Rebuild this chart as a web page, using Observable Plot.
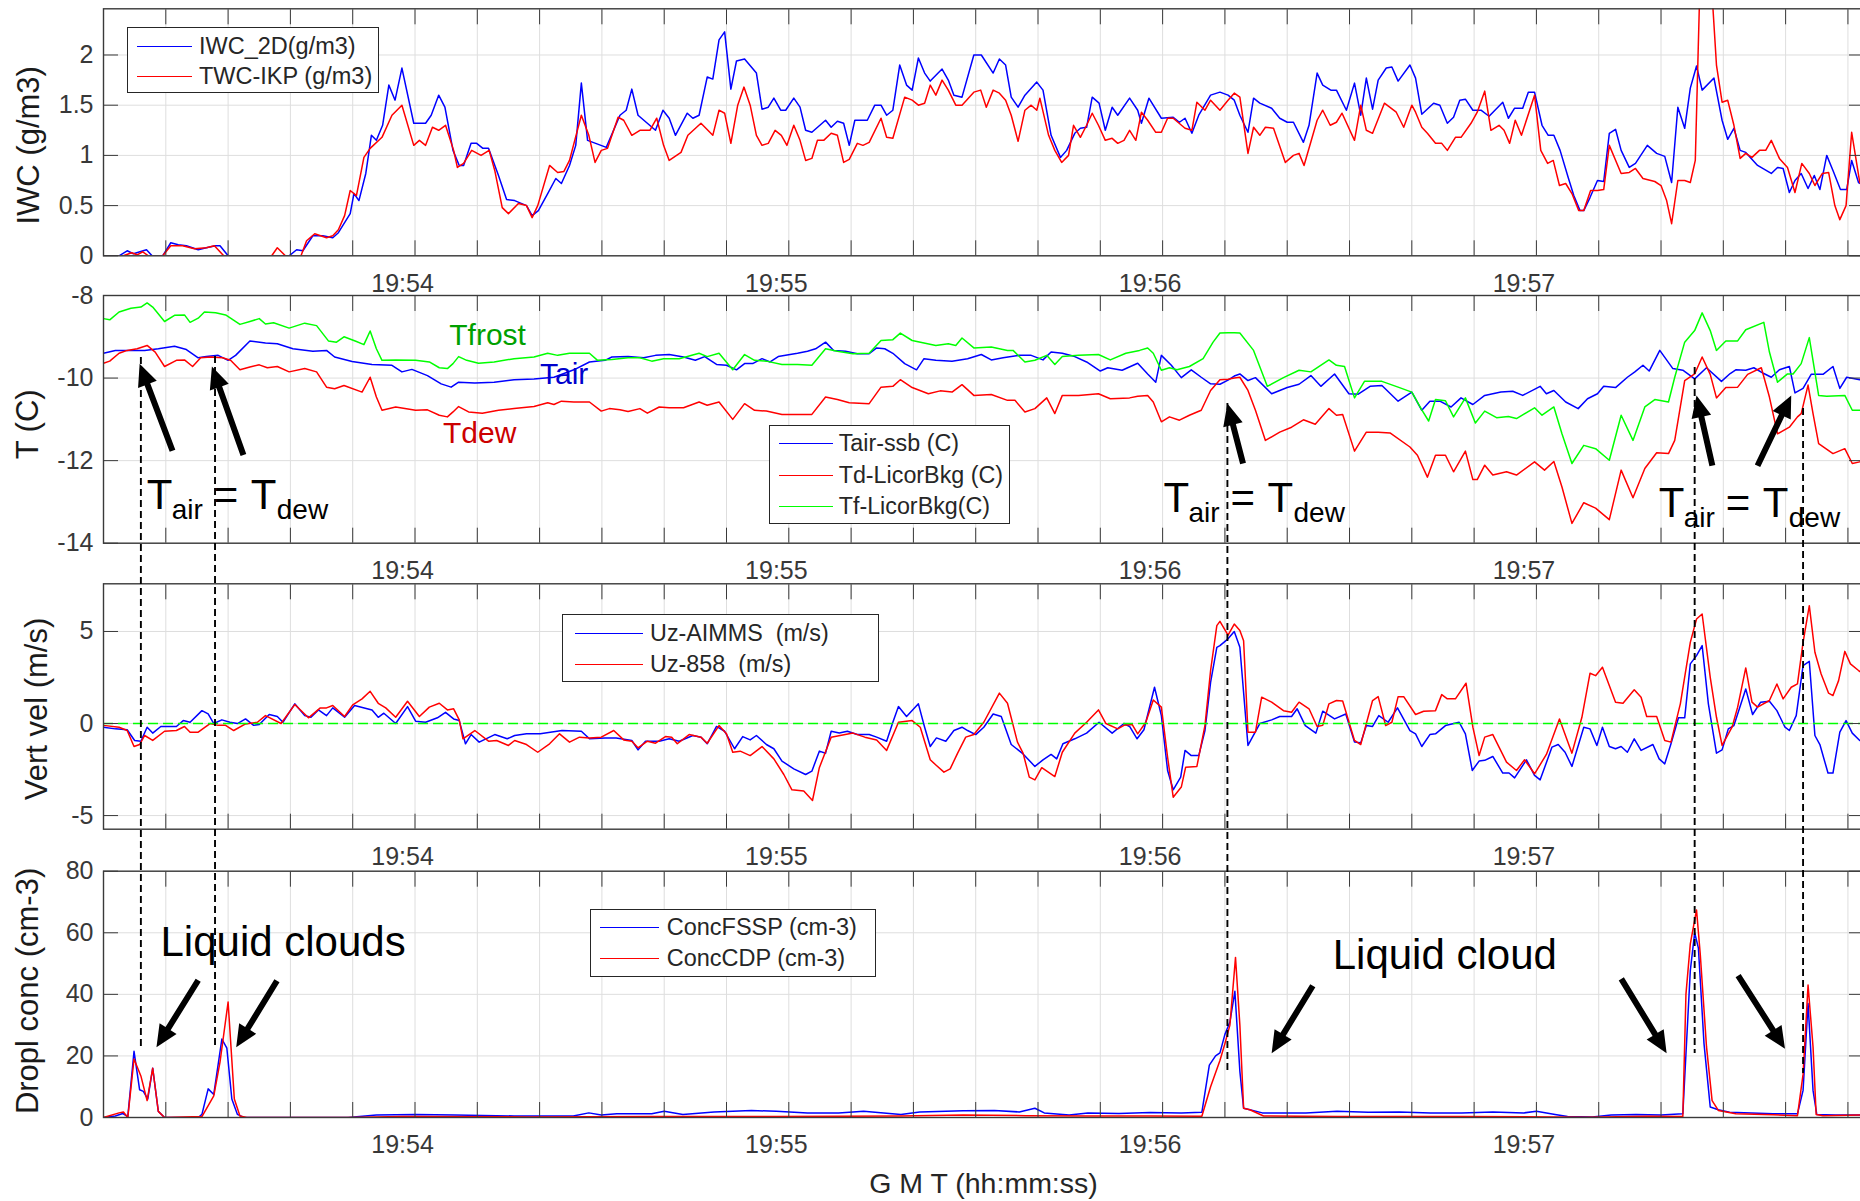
<!DOCTYPE html>
<html>
<head>
<meta charset="utf-8">
<script src="https://cdn.jsdelivr.net/npm/d3@7"></script>
<script src="https://cdn.jsdelivr.net/npm/@observablehq/plot@0.6"></script>
<style>
  html, body { margin: 0; padding: 0; background: #fff; }
  #fig { position: relative; width: 1860px; height: 1201px; overflow: hidden; background: #fff;
         font-family: "Liberation Sans", Arial, Helvetica, sans-serif; }
  #fig > svg { position: absolute; left: 0; top: 0; }
  .legend { position: absolute; background: #fff; border: 1.5px solid #262626; box-sizing: border-box; color: #262626; }
  .legend .row { position: absolute; display: flex; align-items: center; height: 28px; white-space: pre; }
</style>
</head>
<body>
<div id="fig"></div>
<script>
const W = 1860, H = 1201;
const FONT = '"Liberation Sans", Arial, Helvetica, sans-serif';
const BLUE = "#0000ff", RED = "#ff0000", GREEN = "#00ff00";
const AXIS = "#3a3a3a", GRID = "#dedede", TICK_TEXT = "#383838";

// Time axis: seconds after 19:53:00 GMT
const xDomain = [12, 294.5];
const xTicks = d3.range(12, 295, 10);
const minuteTicks = [60, 120, 180, 240];
const minuteLabels = ["19:54", "19:55", "19:56", "19:57"];

// ---- Panel 1: ice / total water content (g/m3), [seconds, value]
const iwc2D = [[12,0],[14.5,0],[15.8,0.05],[16.8,0.02],[18.9,0.06],[19.8,0],[21.5,0],[22.8,0.13],[24,0.11],[25.3,0.1],[27.2,0.06],[28.5,0.08],[30,0.1],[30.7,0.1],[32,0],[34,0],[38,0],[41.8,0],[43,0.06],[44,0.05],[45.6,0.2],[47.2,0.2],[48.8,0.18],[49.7,0.23],[51.6,0.42],[52.2,0.62],[53,0.55],[54.1,0.82],[55,1.2],[55.8,1.15],[56.8,1.3],[57.8,1.7],[58.8,1.55],[59.9,1.87],[61.8,1.32],[63.7,1.32],[64.6,1.4],[65.8,1.6],[66.8,1.48],[68.1,1.05],[69.1,0.9],[69.8,0.9],[71,1.12],[71.9,1.12],[72.9,1.07],[73.8,1.07],[75.4,0.8],[76.7,0.56],[78,0.55],[79.9,0.5],[80.8,0.4],[81.8,0.45],[83.3,0.62],[84.6,0.77],[85.5,0.72],[86.8,0.9],[87.8,1.1],[88.7,1.72],[89.7,1.15],[91,1.12],[92.7,1.08],[94.9,1.4],[95.9,1.45],[96.8,1.66],[97.8,1.4],[100.6,1.25],[101.8,1.45],[102.8,1.37],[103.8,1.2],[105.7,1.42],[106.6,1.37],[107.6,1.4],[108.9,1.78],[109.8,1.76],[110.8,2.15],[111.7,2.23],[112.7,1.66],[113.6,1.94],[114.9,1.96],[116.8,1.82],[117.7,1.46],[118.7,1.48],[119.6,1.57],[120.7,1.45],[121.5,1.45],[122.8,1.57],[123.8,1.48],[124.7,1.25],[125.7,1.23],[127.9,1.35],[128.8,1.28],[129.8,1.34],[130.8,1.32],[131.7,1.1],[132.6,1.35],[134.6,1.35],[135.8,1.5],[136.8,1.5],[137.7,1.4],[138.7,1.45],[139.8,1.9],[140.9,1.7],[141.8,1.65],[142.8,1.97],[143.8,1.82],[144.7,1.74],[146.6,1.86],[147.6,1.75],[148.5,1.6],[149.8,1.58],[151.7,2.0],[152.9,2.0],[154.8,1.82],[155.8,1.96],[156.8,1.9],[157.7,1.58],[158.8,1.48],[159.9,1.6],[161.8,1.73],[162.8,1.65],[164.1,1.2],[165.6,0.98],[166.6,1.05],[167.9,1.22],[168.8,1.27],[169.8,1.28],[170.7,1.58],[171.8,1.52],[172.8,1.25],[173.9,1.48],[174.8,1.4],[176.7,1.57],[178,1.45],[178.6,1.32],[179.8,1.57],[181.8,1.37],[183.7,1.38],[184.7,1.33],[185.6,1.37],[186.7,1.22],[187.8,1.4],[189.7,1.6],[191.2,1.63],[192.5,1.6],[193.5,1.55],[194.4,1.4],[195.7,1.23],[196.6,1.57],[197.6,1.52],[199.5,1.47],[200.8,1.37],[202,1.33],[203,1.33],[204.6,1.13],[205.5,1.3],[206.8,1.82],[207.7,1.7],[209,1.65],[209.9,1.65],[211.5,1.45],[212.8,1.72],[213.8,1.4],[214.7,1.77],[215.7,1.46],[216.6,1.75],[217.9,1.87],[218.8,1.88],[219.8,1.74],[221.7,1.9],[222.6,1.77],[223.6,1.41],[225.5,1.52],[226.5,1.5],[227.7,1.32],[228.7,1.38],[229.7,1.55],[230.6,1.56],[231.8,1.45],[233.1,1.45],[234.4,1.39],[236.6,1.53],[237.5,1.37],[238.5,1.47],[239.8,1.47],[240.7,1.63],[241.7,1.63],[242.9,1.3],[243.9,1.2],[244.8,1.2],[245.8,1.05],[247.1,0.78],[248,0.6],[249,0.45],[249.6,0.45],[250.6,0.58],[251.8,0.75],[252.8,0.74],[253.7,1.22],[254.7,1.26],[255.6,1.05],[256.9,0.88],[257.9,0.92],[259.8,1.1],[261.3,1.02],[262.6,0.99],[263.7,0.73],[264.7,1.48],[265.8,1.27],[266.7,1.67],[267.7,1.89],[268.6,1.65],[270.5,1.77],[271.8,1.35],[272.7,1.16],[273.7,1.27],[274.7,1.05],[275.6,1.03],[277.5,0.9],[279.7,0.82],[280.7,0.88],[281.6,0.87],[282.6,0.63],[283.5,0.75],[284.5,0.82],[285.6,0.67],[286.6,0.8],[287.5,0.66],[288.6,1.0],[289.6,0.85],[290.8,0.66],[291.8,0.66],[292.6,0.95],[293.7,0.73],[294.5,0.7]];

const twcIKP = [[12,0],[15.2,0],[16.5,0.03],[17.4,0.01],[18.3,0.04],[19.2,0],[21.5,0],[22.8,0.1],[24.7,0.1],[26.6,0.07],[28.5,0.08],[29.8,0.1],[31.3,0],[39,0],[39.9,0.08],[41.2,0],[43.7,0],[44.6,0.15],[45.9,0.22],[47.8,0.18],[48.8,0.2],[49.7,0.26],[50.7,0.4],[51.6,0.65],[52.6,0.6],[53.8,0.98],[54.8,1.07],[56.7,1.18],[58.3,1.4],[59.9,1.5],[61.8,1.1],[62.7,1.15],[63.7,1.1],[64.8,1.28],[65.8,1.25],[66.9,1.3],[68.2,1.05],[68.8,0.88],[69.8,0.92],[71.1,1.05],[72.6,1.0],[73.9,1.05],[74.8,0.85],[76,0.48],[77,0.42],[78.6,0.52],[79.9,0.5],[80.8,0.38],[81.7,0.5],[83.6,0.9],[84.9,0.83],[85.9,0.84],[86.8,0.95],[88.7,1.4],[89.9,1.2],[90.9,0.93],[91.9,1.05],[92.9,1.07],[94.6,1.38],[95.5,1.35],[96.8,1.2],[98.1,1.25],[99.7,1.25],[100.8,1.37],[101.9,1.1],[102.8,0.95],[104.7,1.03],[105.8,1.2],[107.9,1.32],[109.8,1.2],[110.8,1.45],[111.7,1.42],[112.7,1.12],[113.8,1.5],[114.8,1.68],[115.8,1.5],[116.8,1.2],[117.7,1.1],[118.7,1.12],[119.8,1.25],[120.8,1.2],[121.7,1.1],[122.8,1.3],[123.8,1.15],[124.7,0.95],[125.7,0.97],[126.6,1.15],[127.6,1.15],[128.8,1.22],[129.8,1.2],[130.8,0.93],[131.7,0.96],[133,1.12],[133.9,1.1],[134.9,1.13],[136.8,1.37],[137.7,1.18],[138.7,1.17],[140.6,1.58],[141.8,1.55],[142.8,1.5],[143.8,1.52],[144.7,1.7],[145.6,1.6],[146.6,1.75],[147.6,1.65],[148.8,1.5],[149.8,1.5],[151.7,1.63],[152.8,1.65],[153.7,1.48],[154.8,1.65],[155.8,1.62],[156.8,1.55],[157.7,1.4],[158.8,1.14],[159.9,1.45],[160.9,1.5],[161.8,1.45],[162.3,1.57],[163.7,1.2],[164.7,1.05],[165.8,0.93],[166.9,1.0],[167.7,1.3],[168.8,1.18],[169.8,1.3],[170.7,1.42],[171.7,1.3],[172.8,1.15],[173.9,1.17],[174.8,1.12],[175.8,1.15],[176.7,1.25],[177.7,1.15],[178.6,1.43],[179.6,1.35],[180.9,1.23],[181.8,1.23],[182.8,1.37],[183.7,1.37],[185.6,1.27],[186.7,1.25],[187.5,1.53],[188.8,1.45],[189.7,1.55],[191.2,1.45],[192.5,1.55],[193.5,1.62],[194.4,1.58],[195.7,1.02],[196.6,1.28],[197.6,1.2],[198.5,1.28],[199.8,1.27],[201.7,0.93],[203,1.0],[203.9,1.02],[204.7,0.9],[206.8,1.35],[207.7,1.45],[208.9,1.3],[209.9,1.33],[210.8,1.42],[212.8,1.15],[213.8,1.5],[214.7,1.25],[215.7,1.22],[217.6,1.52],[219.5,1.43],[220.7,1.28],[222,1.5],[222.6,1.43],[223.6,1.28],[224.5,1.22],[225.8,1.12],[226.8,1.12],[227.7,1.05],[229,1.18],[229.9,1.18],[231.5,1.32],[232.5,1.43],[233.7,1.64],[234.7,1.25],[236,1.3],[236.8,1.25],[237.7,1.12],[238.6,1.35],[239.6,1.2],[241.7,1.6],[242.7,1.05],[243.8,0.92],[244.7,0.95],[245.7,0.7],[246.7,0.72],[247.7,0.62],[248.8,0.45],[249.6,0.45],[250.7,0.65],[251.8,0.65],[252.8,0.66],[253.7,1.1],[255.6,0.82],[256.9,0.83],[257.9,0.87],[259.1,0.77],[261,0.74],[262,0.7],[262.9,0.55],[263.7,0.32],[264.7,0.75],[265.8,0.75],[266.7,0.73],[267.5,0.95],[268.2,2.6],[269,2.9],[270.2,2.6],[270.9,1.9],[271.8,1.53],[272.7,1.55],[273.7,1.3],[274.7,0.97],[275.6,1.02],[276.6,0.98],[277.8,1.05],[278.8,1.05],[279.7,1.15],[281,0.97],[282.3,0.88],[283.5,0.63],[284.6,0.92],[285.8,0.82],[286.7,0.7],[287.9,0.82],[288.9,0.83],[289.9,0.5],[290.7,0.36],[291.7,0.5],[292.6,1.23],[293.9,0.73],[294.5,0.7]];

// ---- Panel 2: temperatures (C)
const tairSsb = [[12,-9.4],[13.9,-9.33],[16.4,-9.33],[18.6,-9.33],[20.8,-9.29],[23.4,-9.23],[25.3,-9.31],[27.2,-9.51],[28.5,-9.48],[30.4,-9.45],[32,-9.57],[33.2,-9.45],[35.5,-9.1],[38,-9.15],[39.9,-9.17],[42.4,-9.29],[45.6,-9.35],[47.8,-9.33],[49.1,-9.49],[51.9,-9.6],[55.1,-9.67],[58.3,-9.69],[59.9,-9.85],[61.5,-9.79],[64,-9.94],[66.2,-10.14],[67.8,-10.22],[69,-10.1],[71.6,-10.12],[74.7,-10.1],[77.9,-10.04],[81.1,-10.02],[84.3,-9.98],[87.5,-9.8],[90,-9.61],[92.5,-9.57],[93.6,-9.49],[96.2,-9.48],[98.7,-9.51],[100.6,-9.45],[102.8,-9.43],[105.1,-9.49],[107,-9.57],[108.5,-9.48],[110.4,-9.67],[112,-9.69],[113.6,-9.8],[114.9,-9.65],[116.2,-9.65],[117.7,-9.53],[119,-9.61],[120.3,-9.48],[122.2,-9.43],[123.4,-9.4],[125,-9.35],[126.3,-9.29],[127.9,-9.13],[129.2,-9.33],[131.1,-9.35],[133,-9.41],[134.9,-9.41],[136.1,-9.27],[137.4,-9.29],[138.7,-9.4],[140.6,-9.65],[142.5,-9.8],[143.7,-9.53],[145.6,-9.57],[148.2,-9.59],[150.7,-9.53],[152.9,-9.43],[154.5,-9.56],[156.4,-9.51],[159,-9.45],[160.9,-9.45],[162.8,-9.56],[164.1,-9.37],[165.9,-9.4],[167.9,-9.48],[169.8,-9.61],[172,-9.83],[173.2,-9.75],[175.5,-9.81],[178,-9.64],[179.6,-9.9],[180.9,-10.1],[181.8,-9.45],[183.4,-9.69],[185,-9.99],[186.6,-9.8],[188.2,-9.98],[189.7,-10.14],[191.2,-10.15],[192.5,-10.05],[193.5,-9.95],[194.4,-9.9],[195.7,-10.06],[196.9,-9.99],[199.5,-10.38],[202,-10.23],[203.9,-10.15],[205.8,-9.94],[207.4,-10.2],[209.6,-9.9],[211.9,-10.38],[213.4,-10.39],[215.3,-10.2],[217.2,-10.18],[219.8,-10.56],[222,-10.34],[223.6,-10.78],[224.9,-10.56],[226.5,-10.56],[228.3,-10.7],[229.9,-10.48],[231.8,-10.64],[233.7,-10.42],[236.3,-10.34],[238.2,-10.32],[239.8,-10.42],[242.6,-10.2],[243.6,-10.38],[244.8,-10.3],[246.7,-10.58],[248.7,-10.74],[250.2,-10.5],[251.8,-10.38],[252.8,-10.2],[254.7,-10.23],[256.6,-9.98],[257.8,-9.85],[259.1,-9.69],[260.1,-9.83],[261.8,-9.33],[263.9,-9.77],[265.5,-9.81],[267.4,-10.02],[269.3,-9.75],[271.7,-10.08],[273.1,-9.89],[274,-9.8],[275.6,-9.81],[276.9,-9.75],[278.5,-9.89],[279.7,-9.98],[281,-9.8],[282.6,-9.72],[283.5,-10.36],[284.8,-10.25],[286.1,-9.91],[288,-9.91],[289.6,-9.72],[290.7,-10.25],[291.8,-9.98],[293.9,-10.04],[294.5,-10.04]];

const tdLicor = [[12,-9.64],[13,-9.59],[14.5,-9.4],[15.8,-9.33],[17.4,-9.29],[19,-9.21],[20.3,-9.37],[21.8,-9.72],[23.7,-9.57],[25,-9.56],[26.3,-9.72],[27.6,-9.51],[29.2,-9.49],[31.1,-9.51],[32.4,-9.57],[33.9,-9.8],[35.5,-9.73],[37,-9.68],[38.3,-9.75],[39.9,-9.72],[41.8,-9.85],[44.3,-9.77],[46.2,-9.85],[47.8,-10.22],[49.1,-10.26],[50.6,-10.18],[53.5,-10.34],[54.8,-9.98],[55.8,-10.46],[56.7,-10.78],[58.9,-10.7],[62.1,-10.78],[64,-10.77],[65.9,-10.9],[67.2,-10.94],[68.1,-10.82],[69,-10.69],[70.6,-10.82],[72.8,-10.85],[75.4,-10.78],[77.9,-10.74],[81.1,-10.69],[83.3,-10.6],[84.3,-10.64],[85.5,-10.56],[87.5,-10.58],[90,-10.58],[91.9,-10.8],[93.2,-10.74],[94.9,-10.77],[96.2,-10.81],[98.1,-10.74],[99.3,-10.85],[101.2,-10.7],[102.8,-10.72],[105.1,-10.72],[107.6,-10.58],[108.9,-10.66],[110.8,-10.58],[113,-11.0],[114.9,-10.62],[116.5,-10.78],[118.4,-10.8],[120.9,-10.88],[123.4,-10.88],[125.7,-10.88],[127.9,-10.46],[129.8,-10.52],[131.7,-10.6],[134.9,-10.62],[136.8,-10.22],[138.7,-10.2],[139.9,-10.04],[141.8,-10.23],[144.4,-10.38],[146.3,-10.31],[148.2,-10.34],[149.8,-10.16],[151.7,-10.42],[154.5,-10.4],[157.1,-10.54],[158.3,-10.54],[159.9,-10.82],[161.5,-10.74],[163.4,-10.48],[164.7,-10.86],[165.9,-10.42],[168.5,-10.42],[171.7,-10.38],[173.6,-10.5],[176.7,-10.48],[178,-10.44],[179.6,-10.42],[180.5,-10.58],[181.8,-11.06],[183.1,-10.94],[184.7,-11.02],[186.3,-10.9],[188.2,-10.78],[189.7,-10.3],[191.2,-10.04],[192.5,-10.03],[193.5,-10.0],[194.4,-9.98],[195.7,-10.3],[196.9,-10.78],[198.5,-11.51],[200.8,-11.31],[202.7,-11.19],[204.6,-11.01],[206.5,-11.12],[208.7,-10.74],[209.9,-10.9],[210.9,-10.88],[212.8,-11.77],[214.7,-11.31],[216.6,-11.31],[218.5,-11.33],[221.7,-11.67],[222.9,-11.87],[224.5,-12.4],[225.8,-11.87],[227.4,-11.87],[228.7,-12.27],[230.6,-11.77],[231.8,-12.46],[232.5,-12.46],[233.7,-12.11],[235,-12.35],[237.2,-12.27],[238.8,-12.35],[241.7,-12.03],[243.3,-12.23],[244.8,-12.02],[246.1,-12.64],[247.7,-13.52],[249.6,-13.02],[251.5,-13.15],[253.7,-13.43],[255.6,-12.23],[257.5,-12.9],[259.4,-12.19],[261.3,-11.81],[263.2,-11.83],[264.2,-11.51],[265.8,-10.06],[267.4,-9.9],[268.6,-9.49],[269.9,-9.91],[270.9,-10.48],[272.4,-10.23],[274.3,-10.22],[275.9,-9.91],[278.1,-9.75],[279.4,-10.46],[280.7,-11.35],[282.6,-11.19],[283.9,-10.94],[284.5,-10.86],[285.6,-10.17],[286.4,-10.86],[287.3,-11.59],[289.6,-11.83],[291.5,-11.71],[292.7,-12.07],[293.9,-12.03],[294.5,-12.03]];

const tfLicor = [[12,-8.56],[13,-8.59],[14.5,-8.4],[16.4,-8.31],[18,-8.28],[19,-8.18],[19.9,-8.28],[21.8,-8.63],[23.4,-8.48],[25,-8.47],[25.9,-8.65],[27.2,-8.55],[28.2,-8.4],[30,-8.42],[31.6,-8.47],[33.9,-8.7],[35.5,-8.63],[37,-8.56],[38,-8.69],[39.3,-8.66],[41.8,-8.79],[44.3,-8.67],[46.2,-8.73],[48.1,-9.1],[49.4,-9.13],[50.6,-9.0],[52.5,-9.11],[53.8,-9.19],[54.8,-8.86],[55.8,-9.29],[56.7,-9.57],[58.9,-9.56],[62.1,-9.57],[64.3,-9.61],[65.9,-9.75],[67.2,-9.77],[68.1,-9.65],[69,-9.48],[70.3,-9.57],[72.2,-9.64],[74.7,-9.61],[77.9,-9.53],[81.1,-9.49],[83.3,-9.4],[84.9,-9.45],[86.8,-9.4],[90,-9.4],[91.3,-9.57],[93.6,-9.55],[96.2,-9.51],[98.1,-9.51],[100,-9.59],[101.9,-9.53],[104.4,-9.53],[107.6,-9.4],[108.9,-9.48],[110.8,-9.4],[113,-9.8],[114.9,-9.43],[116.5,-9.57],[118.4,-9.59],[120.9,-9.67],[123.4,-9.67],[125.7,-9.69],[127.9,-9.29],[129.8,-9.35],[132.3,-9.41],[134.9,-9.4],[136.8,-9.09],[138.7,-9.07],[139.9,-8.91],[141.8,-9.09],[143.7,-9.15],[145.6,-9.21],[147.6,-9.17],[148.8,-9.21],[149.8,-9.03],[151.7,-9.27],[154.5,-9.25],[157.1,-9.33],[158,-9.33],[159.9,-9.61],[161.5,-9.57],[163.4,-9.45],[164.7,-9.67],[165.9,-9.48],[168.5,-9.45],[171.7,-9.43],[173.6,-9.56],[176.1,-9.4],[178.3,-9.33],[179.6,-9.27],[180.5,-9.4],[181.8,-9.81],[183.1,-9.75],[184.3,-9.8],[186.3,-9.72],[188.5,-9.53],[190.1,-9.13],[191.2,-8.91],[192.5,-8.9],[193.5,-8.9],[194.4,-8.91],[196.6,-9.33],[198.8,-10.2],[201.4,-9.99],[203.9,-9.81],[205.8,-9.85],[208.7,-9.56],[209.9,-9.69],[211.2,-9.72],[212.8,-10.48],[214.4,-10.08],[217.2,-10.08],[219.8,-10.22],[222,-10.34],[223.6,-10.77],[224.7,-11.04],[225.8,-10.52],[227.4,-10.55],[228.7,-10.94],[230.6,-10.48],[232.2,-11.09],[233.7,-10.8],[235.6,-10.96],[237.5,-10.93],[238.8,-10.98],[241.7,-10.72],[242.9,-10.9],[244.8,-10.7],[246.1,-11.35],[247.7,-12.07],[249.6,-11.63],[251.5,-11.71],[253.7,-11.99],[255.6,-10.9],[257.5,-11.51],[259.4,-10.7],[261,-10.52],[263.2,-10.58],[264.2,-9.98],[265.8,-9.13],[267.4,-8.85],[268.6,-8.42],[269.9,-8.85],[270.9,-9.33],[272.4,-9.1],[274.3,-9.1],[275.6,-8.83],[278.5,-8.65],[279.4,-9.37],[280.7,-10.1],[282.3,-9.9],[283.2,-9.9],[284.5,-9.65],[285.8,-9.02],[287.3,-10.42],[288.6,-10.44],[291.5,-10.42],[292.7,-10.78],[294.5,-10.78]];

// ---- Panel 3: vertical velocity (m/s)
const uzAimms = [[12,-0.2],[13.9,-0.29],[15.8,-0.34],[17,-0.92],[18,-0.96],[19,-0.2],[19.9,-0.52],[21.2,-0.16],[23.7,-0.16],[24.8,0.16],[25.9,0.07],[27.8,0.7],[28.8,0.52],[29.7,0],[31,0.2],[32.3,0.07],[33.5,0],[34.8,0.25],[36.1,-0.1],[37,-0.05],[38.6,0.49],[39.9,0.38],[40.8,0.07],[42.7,1.07],[44.3,0.43],[45.3,0.34],[46.5,0.74],[47.8,0.43],[48.8,0.85],[50.7,0.34],[52.3,0.98],[55.1,0.74],[56.1,0.34],[57,0.56],[58.9,0],[60.8,0.92],[62.1,0.13],[63.7,0.07],[65.6,0.31],[66.9,0.61],[68.2,0.25],[69.1,0.16],[70.1,-1.1],[71,-0.6],[72.3,-1.01],[74.8,-0.6],[76.8,-0.83],[78,-0.65],[79.9,-0.56],[82.1,-0.56],[85.6,-0.38],[88.7,-0.42],[90,-0.83],[92.5,-0.78],[94.3,-0.78],[96.8,-0.92],[97.8,-1.43],[99,-0.96],[101.2,-0.96],[102.8,-0.83],[104.4,-0.96],[106.6,-0.65],[107.9,-0.74],[108.9,-1.1],[110.4,-0.16],[111.7,-0.42],[113.3,-1.37],[114.6,-0.71],[115.8,-0.89],[116.8,-0.65],[118.4,-1.14],[119.6,-1.37],[120.9,-2.04],[122.8,-2.46],[124.7,-2.77],[125.7,-2.59],[126.9,-1.5],[127.9,-1.61],[128.8,-0.42],[130.1,-0.52],[131.4,-0.42],[133,-0.6],[134.9,-0.6],[136.1,-0.74],[137.7,-0.96],[138.7,0.07],[139.6,0.92],[140.9,0.38],[142.8,1.07],[143.8,-0.2],[144.7,-1.25],[145.7,-0.78],[147.2,-0.96],[148.5,-0.38],[149.8,-0.2],[150.7,-0.38],[152,-0.6],[153.3,-0.2],[154.8,0.52],[156.1,0.38],[157.7,-1.14],[159.6,-1.65],[161.5,-2.33],[162.8,-1.97],[164.1,-1.68],[165,-1.92],[166,-1.1],[167.9,-0.83],[169.8,-0.52],[171.8,0.07],[173.9,-0.52],[175.8,0],[176.7,-0.16],[177.9,-0.83],[179,-0.34],[180.7,1.97],[181.8,0.43],[182.8,-2.55],[183.7,-3.6],[184.9,-2.91],[185.6,-1.46],[186.6,-1.74],[187.8,-1.74],[188.8,-0.38],[189.7,2.24],[190.7,4.14],[191.2,4.23],[192.5,4.6],[193.5,5.0],[194.4,4.14],[195.7,-1.19],[197.6,0],[199.5,0.2],[200.8,0.38],[202.7,0.38],[203.6,0.8],[204.9,-0.11],[206.6,-0.52],[207.7,0.67],[209.6,0.25],[211.4,0.52],[212.8,-1.01],[213.8,-1.05],[214.7,-0.11],[215.7,-0.16],[216.7,0.43],[218.2,0.07],[219.7,0.85],[221.7,-0.38],[222.6,-0.56],[223.6,-1.25],[224.9,-0.6],[225.8,-0.56],[227.4,-0.11],[229.6,0.07],[230.6,-0.56],[231.7,-2.55],[232.8,-2.04],[233.7,-2.0],[235,-1.79],[236.6,-2.69],[237.6,-2.69],[238.5,-2.95],[240.4,-1.97],[241.7,-2.82],[242.6,-3.06],[244.5,-1.28],[245.5,-1.14],[246.6,-1.56],[247.7,-2.33],[249.6,-0.2],[250.6,-0.29],[251.7,-1.19],[252.6,-0.2],[253.7,-1.25],[254.7,-1.37],[255.6,-1.25],[256.6,-1.56],[257.7,-0.83],[258.8,-1.46],[260.7,-1.14],[261.7,-1.92],[262.6,-2.19],[263.6,-1.1],[264.8,0.31],[265.8,0.31],[266.7,3.24],[267.7,3.69],[268.6,4.23],[269.6,1.07],[270.9,-1.61],[271.8,-1.43],[272.8,-0.29],[273.7,-0.11],[275.6,1.88],[276.7,0.49],[278,1.16],[279.4,1.21],[280.6,0.7],[281.9,-0.2],[282.6,-0.38],[283.7,0.43],[284.8,3.15],[285.8,3.38],[286.7,-0.65],[287.5,-1.14],[288.8,-2.69],[289.6,-2.69],[290.7,-0.47],[291.7,0.16],[292.7,-0.52],[293.9,-0.92],[294.5,-1.0]];

const uz858 = [[12,-0.1],[14.5,-0.2],[15.8,-0.38],[16.9,-1.25],[17.8,-1.14],[18.6,-0.65],[19.9,-0.92],[21.8,-0.42],[23.7,-0.38],[25,-0.16],[25.9,-0.47],[27.2,-0.47],[29.1,0],[30.4,-0.1],[31.6,-0.1],[32.9,-0.38],[34.8,-0.02],[36.7,0.07],[38,0.43],[40.5,0],[42.7,1.03],[44.9,0.31],[46.8,0.85],[47.8,0.85],[48.8,0.98],[50.7,0.38],[52,1.01],[53.5,1.34],[54.8,1.75],[56.1,1.1],[57.3,0.85],[58.9,0.34],[60.8,1.21],[62.7,0.38],[64.3,0.89],[65.9,1.1],[67.2,0.74],[68.2,0.8],[69.1,0.2],[69.7,-0.83],[71.6,-0.38],[73.8,-0.96],[75.1,-0.92],[77,-1.19],[78,-0.92],[79.9,-1.14],[81.7,-1.56],[83.6,-1.1],[85.2,-0.56],[86.8,-1.01],[88.4,-0.74],[90,-0.78],[91.9,-0.74],[93.9,-0.38],[95.5,-0.89],[96.8,-0.96],[97.8,-1.32],[99.3,-0.96],[100.6,-1.07],[102.2,-0.71],[103.2,-0.74],[104.1,-1.1],[106,-0.6],[107.9,-0.74],[108.9,-1.07],[110.8,-0.11],[112,-0.56],[113,-1.56],[114.2,-1.5],[115.8,-1.74],[117.7,-1.25],[119.6,-1.92],[121.2,-2.77],[122.5,-3.6],[124.4,-3.67],[125.8,-4.18],[126.9,-2.4],[128.8,-0.74],[132.3,-0.52],[134.2,-0.74],[136.1,-0.89],[137.7,-1.46],[139.6,0.07],[141.8,0.16],[143.1,-0.2],[144.7,-1.97],[145.7,-2.28],[146.9,-2.64],[147.9,-2.46],[149.1,-1.61],[150.4,-0.74],[151.7,-0.6],[153.3,0.07],[155.8,1.65],[157.1,1.1],[158.7,-1.01],[159.6,-1.61],[160.6,-2.91],[161.5,-3.06],[162.6,-2.4],[164.7,-2.88],[165.9,-1.56],[167.9,-0.52],[169.8,0.07],[171.7,0.74],[172.9,0.0],[174.8,-0.29],[175.8,-0.1],[177.1,-0.05],[178,-0.56],[179.3,0.07],[180.5,1.28],[181.8,0.89],[182.8,-1.83],[183.7,-4.0],[185,-3.45],[185.7,-2.37],[187.5,-2.33],[188.8,-0.1],[189.7,2.88],[190.7,5.32],[191.2,5.55],[192.5,4.8],[193.5,5.4],[194.4,5.05],[195,4.5],[195.7,-0.47],[196.9,-0.47],[197.9,1.43],[199.5,1.16],[201.4,0.7],[202.7,0.61],[203.9,1.16],[205.5,0.8],[206.8,-0.16],[207.7,-0.1],[208.7,1.07],[209.9,1.25],[210.9,1.22],[212.8,-0.92],[213.8,-1.14],[214.7,0],[215.7,1.25],[216.6,1.46],[217.8,-0.11],[218.8,0.07],[219.8,1.46],[220.7,1.46],[222.6,0.49],[223.9,0.67],[225.8,0.7],[226.8,1.57],[227.7,1.34],[229,1.34],[230.7,2.19],[231.8,-0.2],[232.8,-1.74],[233.7,-0.74],[235,-0.6],[236,-1.28],[237.2,-2.1],[238.8,-2.55],[240.1,-1.97],[241.7,-2.73],[243.6,-1.68],[245.7,0.25],[247.7,-1.61],[249.3,0.34],[250.6,2.73],[251.5,2.6],[252.6,3.06],[254.7,1.16],[255.9,1.1],[257.7,1.83],[258.8,1.43],[259.7,0.38],[261.3,0.38],[262.6,-0.92],[263.6,-1.01],[265.1,1.07],[266.7,4.41],[267.7,5.68],[268.6,5.95],[269.9,2.51],[270.9,0.34],[271.8,-1.19],[273.4,-0.2],[274.3,0.89],[275.6,3.02],[276.6,1.16],[277.5,0.89],[279.4,1.25],[280.6,2.15],[281.6,1.34],[282.9,1.97],[283.9,2.15],[284.8,4.41],[285.8,6.4],[286.7,3.87],[287.7,2.69],[288.9,1.65],[289.6,1.52],[290.5,2.33],[291.5,3.92],[292.4,3.24],[293.7,2.88],[294.5,2.7]];

// ---- Panel 4: droplet concentration (cm-3)
const concFSSP = [[12,0],[13.9,0.5],[15.1,1.3],[15.9,0.3],[16.9,21.5],[17.8,9],[18.4,8.5],[19.1,6],[19.9,16],[20.8,2],[21.8,0],[27.2,0],[27.8,1],[28.8,9.3],[29.7,7.5],[31,25.5],[31.8,22.5],[32.6,6],[33.5,1],[34.5,0],[51.3,0],[55.8,0.8],[62.1,1.0],[68.4,0.8],[77.9,0.5],[87.4,0.5],[89.9,1.5],[91.9,0.8],[94.4,1.2],[100,1.2],[102,2],[105,1],[110,1.8],[116,2.3],[120,2],[125,1.5],[130,1.5],[134,2],[140,1],[143,1.8],[150,2.2],[155,2.3],[159,1.8],[161.5,3],[163,1.5],[167,0.8],[170,1.5],[175,1.3],[180,1.6],[185,1.5],[188.3,1.7],[189.5,17],[190.5,20],[191.2,21],[192,27],[192.8,31],[193.6,41],[194.4,15],[195,3],[196,2.5],[198,1.5],[205,1.5],[210,2],[215,1.7],[220,1.8],[225,1.5],[230,1.5],[235,1.8],[240,1.5],[242,2],[245,1],[247,0.3],[251,0.2],[254,0.8],[258,1],[262,0.8],[265.5,1.2],[266.7,47.7],[267.4,60],[268,55],[268.9,24],[269.9,3.4],[271.2,2.5],[273,1.7],[280,1.2],[283.9,1.2],[284.8,8.8],[285.6,37],[286.4,8.8],[287,1],[290,0.8],[294.5,0.8]];

const concCDP = [[12,0],[14.5,1.5],[15.2,1.8],[15.9,0],[16.9,19],[18,13.5],[19,5.5],[19.9,16],[20.8,2],[21.8,0],[27.8,0.3],[29.7,7],[30.7,18],[32,37.5],[33,6],[33.9,0.5],[35,0],[51,0],[60,0.3],[80,0.2],[100,0.3],[120,0.3],[140,0.5],[150,0.8],[160,0.6],[170,0.5],[180,0.5],[188.3,0.4],[189.7,10],[191.2,18.5],[192,24],[192.8,30],[193.7,52],[194.4,30],[195,3],[196,2.5],[198.2,0.5],[210,0.3],[230,0.3],[245,0.2],[250,0.1],[260,0.4],[265.5,0.3],[266,40],[266.7,56.4],[267.7,67.4],[268.3,53],[269.3,23],[270.2,5.5],[271.2,2.3],[274,1.2],[280,0.9],[283.9,0.6],[284.8,14],[285.6,43],[286.4,23],[286.9,1],[288,0.6],[294.5,0.8]];

// ---- Annotations
const curveNames = [
  {t: 67.5, v: -8.97, text: "Tfrost", color: "#00a000"},
  {t: 82.06, v: -9.92, text: "Tair", color: "#0000cc"},
  {t: 66.5, v: -11.35, text: "Tdew", color: "#cc0000"}
];
// "T_air = T_dew" labels: left edge / baseline of the first T
const saturationLabels = [{t: 18.95, v: -13.165}, {t: 182.14, v: -13.247}, {t: 261.64, v: -13.368}];
const saturationParts = [
  {s: "T", dx: 0, dy: 0, size: 42},
  {s: "air", dx: 25, dy: 10, size: 28},
  {s: "=", dx: 67, dy: 0, size: 42},
  {s: "T", dx: 104, dy: 0, size: 42},
  {s: "dew", dx: 130, dy: 10, size: 28}
];
// arrow tips (time, value), length in px, clockwise angle from up
const tempArrows = [
  {t: 17.8, v: -9.654, len: 93, angle: -20.7},
  {t: 29.4, v: -9.719, len: 94, angle: -19.6},
  {t: 192.4, v: -10.615, len: 62, angle: -14.6},
  {t: 267.7, v: -10.42, len: 72, angle: -12.7},
  {t: 282.9, v: -10.42, len: 78, angle: 25.6}
];
const concArrows = [
  {t: 20.5, v: 22.8, len: 79, angle: -148.1},
  {t: 33.3, v: 22.8, len: 78, angle: -148.5},
  {t: 199.5, v: 20.9, len: 79, angle: -148.6},
  {t: 262.9, v: 20.9, len: 87, angle: 148.6},
  {t: 281.9, v: 22.3, len: 87, angle: 147.4}
];
const cloudLabels = [
  {t: 21.15, v: 52.6, text: "Liquid clouds"},
  {t: 209.3, v: 48.3, text: "Liquid cloud"}
];
// times where Tair reaches Tdew, with vertical extent (figure px)
const saturationTimes = [
  {t: 18.0, top: 357, bottom: 1048},
  {t: 29.9, top: 356, bottom: 1045},
  {t: 192.4, top: 403, bottom: 1073},
  {t: 267.4, top: 367, bottom: 1053},
  {t: 284.8, top: 408, bottom: 1073}
];

const legends = [
  {left: 126.5, top: 26.7, width: 252, height: 66, font: 23.5, lineX: 11, lineW: 55, textX: 73, rows: [20, 50],
   entries: [["IWC_2D(g/m3)", BLUE], ["TWC-IKP (g/m3)", RED]]},
  {left: 769.2, top: 425, width: 240.5, height: 98.5, font: 23.3, lineX: 10.8, lineW: 53.3, textX: 70, rows: [19.3, 51, 82.3],
   entries: [["Tair-ssb (C)", BLUE], ["Td-LicorBkg (C)", RED], ["Tf-LicorBkg(C)", GREEN]]},
  {left: 562.3, top: 614.3, width: 317, height: 67.4, font: 23.3, lineX: 13, lineW: 68, textX: 88.3, rows: [20, 50.7],
   entries: [["Uz-AIMMS  (m/s)", BLUE], ["Uz-858  (m/s)", RED]]},
  {left: 590.4, top: 909.3, width: 285.6, height: 67.4, font: 23.5, lineX: 10.6, lineW: 58.3, textX: 76.8, rows: [19, 49.7],
   entries: [["ConcFSSP (cm-3)", BLUE], ["ConcCDP (cm-3)", RED]]}
];

// filled arrow: shaft plus triangular head, drawn pointing up from the origin
const arrowShape = {
  draw(context, l) {
    const w = 3, hw = 10, h = 22;
    context.moveTo(-w, 0);
    context.lineTo(-w, h - l);
    context.lineTo(-hw, h - l);
    context.lineTo(0, -l);
    context.lineTo(hw, h - l);
    context.lineTo(w, h - l);
    context.lineTo(w, 0);
    context.closePath();
  }
};
const arrowMarks = (list) => list.map(a => Plot.vector([a], {
  x: "t", y: "v", length: a.len, rotate: a.angle, anchor: "end",
  shape: arrowShape, fill: "black", stroke: "none"
}));

const series = (data, color) => Plot.line(data, {x: d => d[0], y: d => d[1], stroke: color, strokeWidth: 1.5, clip: true});
const fmt = d => String(d);

const panels = [
  {top: 8.3, bottom: 255.3, domain: [0, 2.46], ticks: [0, 0.5, 1, 1.5, 2], label: "IWC (g/m3)", labelDx: -74, labelDy: 13,
   marks: [series(iwc2D, BLUE), series(twcIKP, RED)]},
  {top: 295, bottom: 542.7, domain: [-14, -8], ticks: [-14, -12, -10, -8], label: "T (C)", labelDx: -75, labelDy: 5,
   marks: [
     series(tairSsb, BLUE), series(tdLicor, RED), series(tfLicor, GREEN),
     Plot.text(curveNames, {x: "t", y: "v", text: "text", fill: "color", fontSize: 30, textAnchor: "start"}),
     ...saturationParts.map(p => Plot.text(saturationLabels, {x: "t", y: "v", text: () => p.s, dx: p.dx, dy: p.dy,
        fontSize: p.size, textAnchor: "start", lineAnchor: "bottom", fill: "black"})),
     ...arrowMarks(tempArrows)
   ]},
  {top: 583.3, bottom: 828.7, domain: [-5.74, 7.59], ticks: [-5, 0, 5], label: "Vert vel (m/s)", labelDx: -66, labelDy: 2.5,
   marks: [series(uzAimms, BLUE), series(uz858, RED),
     Plot.ruleY([0], {stroke: GREEN, strokeWidth: 1.5, strokeDasharray: "10,5"})]},
  {top: 870.7, bottom: 1117, domain: [0, 80], ticks: [0, 20, 40, 60, 80], label: "Dropl conc (cm-3)", labelDx: -75, labelDy: -3.4,
   marks: [series(concFSSP, BLUE), series(concCDP, RED),
     Plot.text(cloudLabels, {x: "t", y: "v", text: "text", fontSize: 42, textAnchor: "start", lineAnchor: "bottom", fill: "black"}),
     ...arrowMarks(concArrows),
     Plot.text(["G M T (hh:mm:ss)"], {text: d => d, frameAnchor: "bottom", textAnchor: "middle", lineAnchor: "middle",
       dy: 66, fontSize: 28.5, fill: "#262626"})
   ]}
];

function makePanel(p) {
  return Plot.plot({
    width: W, height: H,
    marginLeft: 103, marginRight: -3, marginTop: p.top, marginBottom: H - p.bottom,
    x: {domain: xDomain, label: null},
    y: {domain: p.domain, label: null},
    style: {background: "transparent", fontFamily: FONT, overflow: "hidden"},
    marks: [
      Plot.gridX(xTicks, {stroke: GRID, strokeOpacity: 1, strokeWidth: 1}),
      Plot.gridY(p.ticks, {stroke: GRID, strokeOpacity: 1, strokeWidth: 1}),
      ...p.marks,
      Plot.frame({stroke: AXIS, strokeWidth: 1.4}),
      Plot.axisX(xTicks, {anchor: "top", tickSize: -15, tickFormat: () => "", stroke: AXIS, label: null}),
      Plot.axisX(xTicks, {anchor: "bottom", tickSize: -15, tickFormat: () => "", stroke: AXIS, label: null}),
      Plot.axisX(minuteTicks, {anchor: "bottom", tickSize: 0, tickPadding: 18, fontSize: 25, fill: TICK_TEXT, label: null,
        tickFormat: t => minuteLabels[minuteTicks.indexOf(t)]}),
      Plot.axisY(p.ticks, {anchor: "left", tickSize: -15, tickFormat: () => "", stroke: AXIS, label: null}),
      Plot.axisY(p.ticks, {anchor: "right", tickSize: -15, tickFormat: () => "", stroke: AXIS, label: null}),
      Plot.axisY(p.ticks, {anchor: "left", tickSize: 0, tickPadding: 10, fontSize: 25, fill: TICK_TEXT, label: null, tickFormat: fmt}),
      Plot.text([p.label], {text: d => d, frameAnchor: "left", textAnchor: "middle", lineAnchor: "middle", rotate: -90,
        dx: p.labelDx, dy: p.labelDy, fontSize: 31, fill: "#1a1a1a"})
    ]
  });
}

function makeLegend(L) {
  const box = document.createElement("div");
  box.className = "legend";
  Object.assign(box.style, {left: L.left + "px", top: L.top + "px", width: L.width + "px", height: L.height + "px", fontSize: L.font + "px"});
  L.entries.forEach(([label, color], i) => {
    const row = document.createElement("div");
    row.className = "row";
    row.style.left = (L.lineX - 1.5) + "px";
    row.style.top = (L.rows[i] - 1.5 - 14) + "px";
    const swatch = document.createElement("span");
    swatch.style.cssText = `display:inline-block;width:${L.lineW}px;height:0;border-top:1.5px solid ${color};margin-right:${L.textX - L.lineX - L.lineW}px`;
    const text = document.createElement("span");
    text.textContent = label;
    row.append(swatch, text);
    box.append(row);
  });
  return box;
}

const fig = document.getElementById("fig");
panels.forEach(p => fig.appendChild(makePanel(p)));
legends.forEach(L => fig.appendChild(makeLegend(L)));

// dashed markers spanning the lower three panels
fig.appendChild(Plot.plot({
  width: W, height: H,
  marginLeft: 103, marginRight: -3, marginTop: 0, marginBottom: 0,
  x: {domain: xDomain, axis: null},
  y: {domain: [0, H], range: [0, H], axis: null},
  style: {background: "transparent", overflow: "hidden"},
  marks: [
    Plot.ruleX(saturationTimes, {x: "t", y1: "top", y2: "bottom", stroke: "black", strokeWidth: 1.9, strokeDasharray: "7,4"})
  ]
}));
</script>
</body>
</html>
